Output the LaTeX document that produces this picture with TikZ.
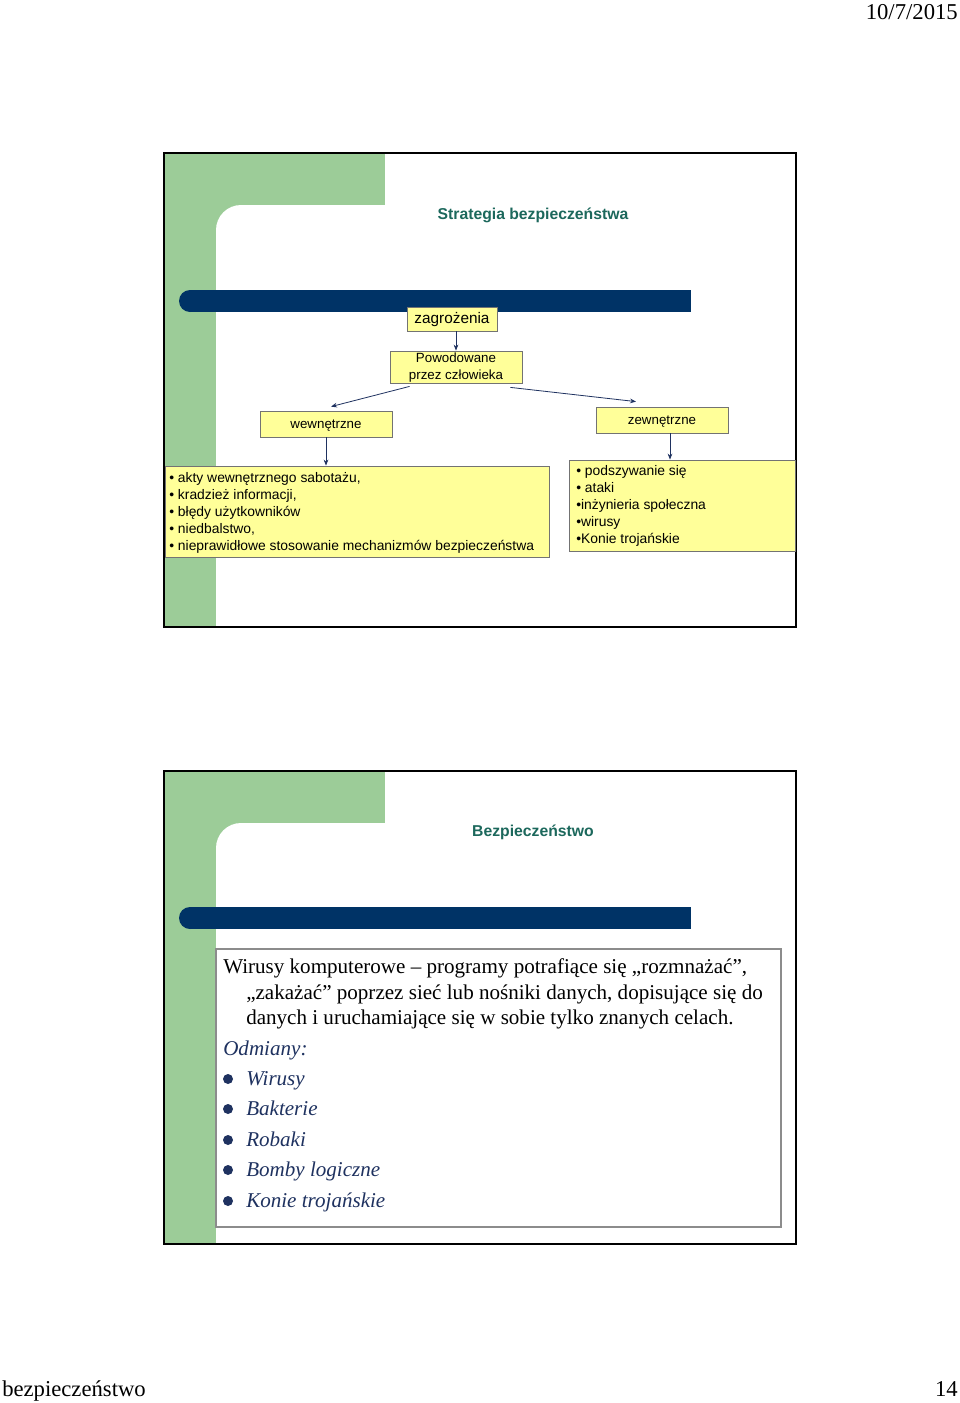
\documentclass[tikz,border=0pt]{standalone}
\usepackage{fontspec}
\setmainfont{Liberation Serif}
\newfontfamily\arialf{Liberation Sans}
\usetikzlibrary{arrows.meta,calc,shadows}
\definecolor{slgreen}{RGB}{156,204,152}
\definecolor{barblue}{RGB}{0,51,102}
\definecolor{titleteal}{RGB}{28,104,92}
\definecolor{boxyellow}{RGB}{255,255,153}
\definecolor{navytext}{RGB}{31,50,96}
\definecolor{arrowblue}{RGB}{31,50,96}
\begin{document}
\begin{tikzpicture}[x=0.75pt,y=-0.75pt,
  ybox/.style={draw=black!55, fill=boxyellow, line width=0.6pt, inner sep=0pt,
    drop shadow={shadow xshift=0.8pt,shadow yshift=-0.8pt,fill=black!45,opacity=0.7}},
  ytext/.style={font=\arialf\fontsize{10.4}{12.75}\selectfont, text=black},
  slidetitle/.style={font=\arialf\bfseries\fontsize{11.8}{13}\selectfont, text=titleteal},
  arr/.style={draw=arrowblue, line width=0.6pt, -{Stealth[length=4.5pt,width=3.5pt]}},
  serifline/.style={font=\fontsize{15.8}{18}\selectfont, anchor=base west, inner sep=0pt},
  itemline/.style={font=\itshape\fontsize{15.8}{18}\selectfont, text=navytext, anchor=base west, inner sep=0pt},
  dotbullet/.style={circle, fill=navytext, inner sep=0pt, minimum size=7.5pt},
  pagetext/.style={font=\fontsize{17}{20}\selectfont, inner sep=0pt}
]
\useasboundingbox (0,0) rectangle (960,1403);
\fill[white] (0,0) rectangle (960,1403);

% header / footer
\node[pagetext, anchor=base east] (date) at (958,19) {10/7/2015};
\node[pagetext, anchor=base west] (foot) at (2,1396) {bezpieczeństwo};
\node[pagetext, anchor=base east] (pnum) at (958,1396) {14};

% ---------- slide 1 ----------
\fill[slgreen] (164,153) rectangle (385,205);
\fill[slgreen] (164,153) rectangle (216,627);
\fill[slgreen] (216,205) rectangle (241,230);
\fill[white] (241,230) circle[radius=18.75pt];
\fill[barblue] (190,290) rectangle (691,312);
\fill[barblue] (190,301) circle[radius=8.25pt];
\draw[line width=1.2pt] (164,153) rectangle (796,627);

\node[slidetitle] (t1) at (533,215.5) {Strategia bezpieczeństwa};

\node[ybox, minimum width=67.5pt, minimum height=18pt, text height=8.8pt, text depth=2pt,
      font=\arialf\fontsize{11.5}{13}\selectfont] (zag) at (452,319) {zagrożenia};
\node[ybox, minimum width=99pt, minimum height=24pt, align=center,
      font=\arialf\fontsize{10}{12.75}\selectfont] (pow) at (456,367) {\rule{0pt}{8.8pt}Powodowane\\przez człowieka};
\node[ybox, minimum width=99pt, minimum height=19.5pt, text height=8.4pt, text depth=1pt,
      font=\arialf\fontsize{10}{12}\selectfont] (wew) at (326,424) {wewnętrzne};
\node[ybox, minimum width=99pt, minimum height=19.5pt, text height=8pt, text depth=1.5pt,
      font=\arialf\fontsize{10}{12}\selectfont] (zew) at (662,420) {zewnętrzne};

\node[ybox, minimum width=288pt, minimum height=68.25pt] (ll) at (357,511.5) {};
\node[ytext, anchor=north west, align=left, inner sep=0pt] (llt) at (169,472)
  {• akty wewnętrznego sabotażu,\\• kradzież informacji,\\• błędy użytkowników\\• niedbalstwo,\\• nieprawidłowe stosowanie mechanizmów bezpieczeństwa};
\node[ybox, minimum width=169.5pt, minimum height=68.25pt] (rl) at (682,505.5) {};
\node[ytext, anchor=north west, align=left, inner sep=0pt] (rlt) at (576,465.5)
  {• podszywanie się\\• ataki\\•inżynieria społeczna\\•wirusy\\•Konie trojańskie};

\draw[arr] (zag.south -| pow.north) -- (pow.north);
\draw[arr] ($(pow.south west)+(20,3)$) -- ($(wew.north)+(5,-4)$);
\draw[arr] ($(pow.south east)+(-12,4)$) -- ($(zew.north)+(-26,-5)$);
\draw[arr] (wew.south) -- (wew.south |- ll.north);
\draw[arr] ($(zew.south)+(8,0)$) -- ($(zew.south |- rl.north)+(8,0)$);

% ---------- slide 2 ----------
\fill[slgreen] (164,771) rectangle (385,823);
\fill[slgreen] (164,771) rectangle (216,1244);
\fill[slgreen] (216,823) rectangle (241,848);
\fill[white] (241,848) circle[radius=18.75pt];
\fill[barblue] (190,907) rectangle (691,929);
\fill[barblue] (190,918) circle[radius=8.25pt];
\draw[line width=1.2pt] (164,771) rectangle (796,1244);

\node[slidetitle] (t2) at (533,832) {Bezpieczeństwo};

\node[draw=black!45, fill=white, line width=0.8pt, minimum width=423.75pt, minimum height=208.5pt, inner sep=0pt] (tb) at (498.5,1088) {};

\node[serifline] (l1) at (223,973) {Wirusy komputerowe – programy potrafiące się „rozmnażać”,};
\node[serifline] (l2) at (246,999) {„zakażać” poprzez sieć lub nośniki danych, dopisujące się do};
\node[serifline] (l3) at (246,1024) {danych i uruchamiające się w sobie tylko znanych celach.};
\node[itemline] (od) at (223,1055) {Odmiany:};

\node[dotbullet] (b1) at (228,1079) {};
\node[itemline] (i1) at (246,1085) {Wirusy};
\node[dotbullet] (b2) at (228,1109) {};
\node[itemline] (i2) at (246,1115) {Bakterie};
\node[dotbullet] (b3) at (228,1140) {};
\node[itemline] (i3) at (246,1146) {Robaki};
\node[dotbullet] (b4) at (228,1170) {};
\node[itemline] (i4) at (246,1176) {Bomby logiczne};
\node[dotbullet] (b5) at (228,1201) {};
\node[itemline] (i5) at (246,1207) {Konie trojańskie};
\end{tikzpicture}
\end{document}
